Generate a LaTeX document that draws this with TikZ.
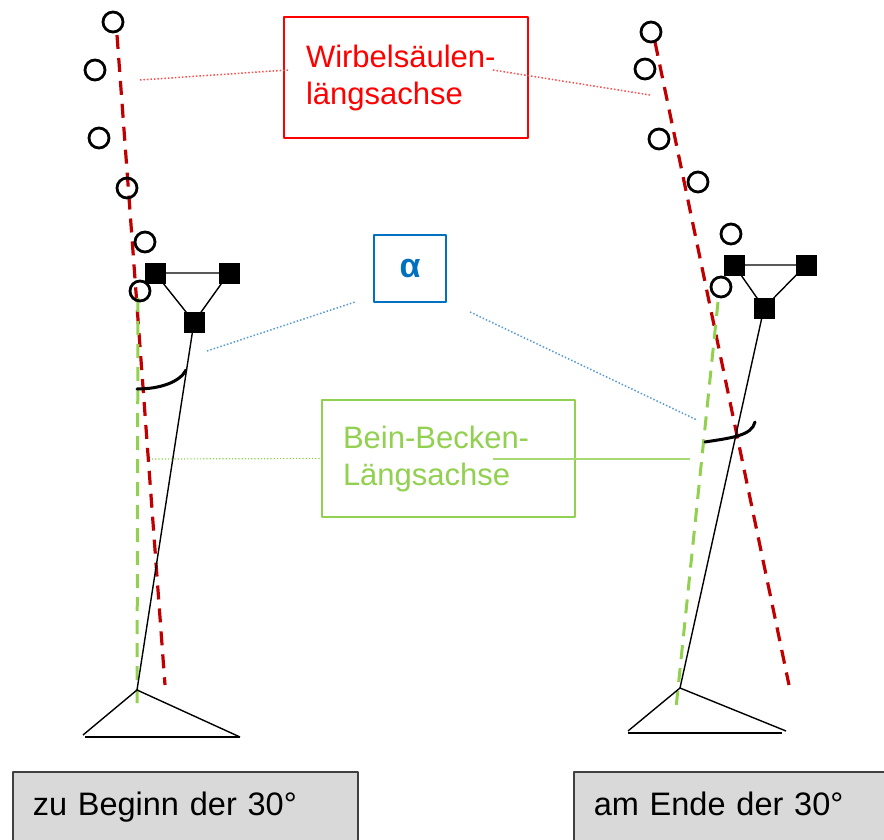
\documentclass[tikz,border=0pt]{standalone}
\usepackage{fontspec}
\setmainfont{Liberation Sans}
\definecolor{wsrot}{HTML}{C00000}
\definecolor{kastenrot}{HTML}{FF0000}
\definecolor{bbgruen}{HTML}{92D050}
\definecolor{winkelblau}{HTML}{0070C0}
\definecolor{linieblau}{HTML}{5B9BD5}
\definecolor{kastengrau}{HTML}{D9D9D9}
\begin{document}
\begin{tikzpicture}[x=1pt,y=-1pt,line join=round,
		wirbel/.style={circle,draw,line width=2.8pt,minimum size=20pt,inner sep=0pt},
		gelenk/.style={rectangle,fill=black,minimum size=21pt,inner sep=0pt},
		glied/.style={line width=1.4pt},
		wsachse/.style={wsrot,line width=3.2pt,dash pattern=on 14pt off 9pt},
		bbachse/.style={bbgruen,line width=3pt,dash pattern=on 14pt off 9pt},
		winkel/.style={line width=3pt,line cap=round},
		schrift/.style={font=\fontsize{31}{37}\selectfont},
		kasten/.style={rectangle,draw,line width=1.5pt,schrift,align=left,inner sep=0pt},
		zustand/.style={kasten,fill=kastengrau,draw=black!75,anchor=base west,
			font=\fontsize{32.5}{37}\selectfont,
			text width=305pt,text height=24pt,text depth=40pt,inner xsep=20pt,inner ysep=19pt}]
	\useasboundingbox (0,0) rectangle (884,840); %Rahmen
	% Figur links: zu Beginn
	\coordinate (lwsO) at (117,35);
	\coordinate (lwsU) at (165,685);
	\coordinate (lbbO) at (138,298);
	\coordinate (lbbU) at (137,708);
	\draw[wsachse] (lwsO) -- (lwsU); %Wirbelsäulenlängsachse
	\draw[bbachse] (lbbO) -- (lbbU); %Bein-Becken-Längsachse
	\foreach \x/\y [count=\i] in {113/22,95/70,99/138,127/188,145/242,140/291}
	\node[wirbel] (lw\i) at (\x,\y) {}; %Wirbel
	\node[gelenk] (lsa) at (155,273) {};
	\node[gelenk] (lsb) at (229,273) {};
	\node[gelenk] (lhue) at (194,322) {};
	\coordinate (lfuss) at (137,690);
	\coordinate (lferse) at (83,735);
	\coordinate (lzehe) at (240,737);
	\draw[glied] (lsa.center) -- (lsb.center) -- (lhue.center) -- cycle; %Becken
	\draw[glied] (lhue.center) -- (lfuss); %Bein
	\draw[glied] (lferse) -- (lfuss) -- (lzehe); %Fuß
	\draw[glied] (85,737) -- (lzehe);
	\draw[winkel] (137,389) .. controls (160,389) and (180,382) .. (186,370); %Winkel
	% Figur rechts: am Ende
	\coordinate (rwsO) at (655,42);
	\coordinate (rwsU) at (789,685);
	\coordinate (rbbO) at (718,302);
	\coordinate (rbbU) at (676,708);
	\draw[wsachse] (rwsO) -- (rwsU);
	\draw[bbachse] (rbbO) -- (rbbU);
	\foreach \x/\y [count=\i] in {651/32,645/69,659/139,698/182,731/234,721/287}
	\node[wirbel] (rw\i) at (\x,\y) {};
	\node[gelenk] (rsa) at (734,265) {};
	\node[gelenk] (rsb) at (806,265) {};
	\node[gelenk] (rhue) at (764,308) {};
	\coordinate (rfuss) at (680,688);
	\coordinate (rferse) at (628,731);
	\coordinate (rzehe) at (786,731);
	\draw[glied] (rsa.center) -- (rsb.center) -- (rhue.center) -- cycle;
	\draw[glied] (rhue.center) -- (rfuss);
	\draw[glied] (rferse) -- (rfuss) -- (rzehe);
	\draw[glied] (628,733) -- (782,733);
	\draw[winkel] (705,442) .. controls (730,438) and (752,436) .. (755,422);
	% Beschriftungen
	\node[kasten,draw=kastenrot,text=kastenrot,minimum width=244pt,minimum height=121pt,
	text width=200pt] (ws) at (406,77.5) {\raisebox{-4pt}{Wirbelsäulen-}\\\raisebox{-4pt}{längsachse}};
	\node[kasten,draw=winkelblau,text=winkelblau,minimum width=72pt,minimum height=67pt,
	font=\fontsize{34}{37}\selectfont\bfseries] (alpha) at (410,268.5) {α};
	\node[kasten,draw=bbgruen,text=bbgruen,minimum width=253pt,minimum height=117pt,
	text width=211pt] (bb) at (448.5,458.5) {Bein-Becken-\\Längsachse};
	% Hinweislinien
	\coordinate (wsl) at (140,80);
	\coordinate (wsr) at (650,95);
	\coordinate (al) at (207,351);
	\coordinate (ar) at (697,420);
	\coordinate (bbl) at (152,459);
	\coordinate (bbr) at (690,459);
	\draw[kastenrot!70,line width=1.5pt,dotted] (wsl) -- (288,70);
	\draw[kastenrot!70,line width=1.5pt,dotted] (493,70) -- (wsr);
	\draw[linieblau,line width=1.5pt,dotted] (al) -- (355,302);
	\draw[linieblau,line width=1.5pt,dotted] (470,312) -- (ar);
	\draw[bbgruen,line width=1.2pt,dotted] (bbl) -- (bb.west);
	\draw[bbgruen!80,line width=1.2pt] (493,459) -- (bbr);
	% Zustände
	\node[zustand] (beginn) at (12,815) {zu Beginn der 30°};
	\node[zustand] (ende) at (573,815) {am Ende der 30°};
\end{tikzpicture}
\end{document}
